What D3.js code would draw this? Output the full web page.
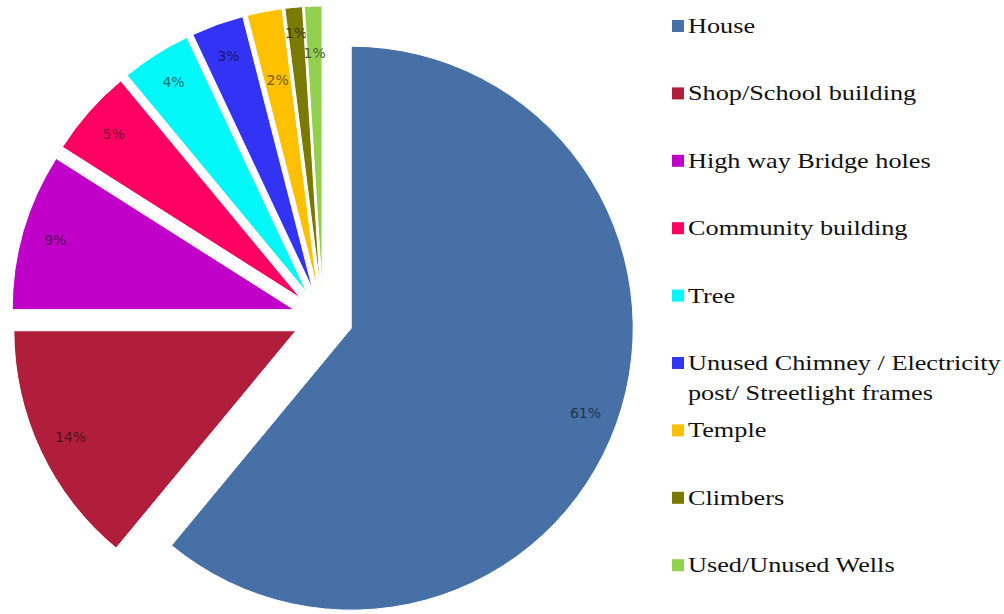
<!doctype html>
<html>

<head>
  <meta charset="utf-8">
  <script src="https://cdnjs.cloudflare.com/ajax/libs/d3/7.8.5/d3.min.js"></script>
  <style>
    body { margin: 0; background: #fff; }
    svg { display: block; }
  </style>
</head>

<body>
  <div id="viz"></div>
  <script>
    // chart data
    var categories = [
      "House",
      "Shop/School building",
      "High way Bridge holes",
      "Community building",
      "Tree",
      "Unused Chimney / Electricity\npost/ Streetlight frames",
      "Temple",
      "Climbers",
      "Used/Unused Wells"
    ];
    var values = [61, 14, 9, 5, 4, 3, 2, 1, 1];
    var colors = ["#4670a6", "#b01e3c", "#c000c8", "#ff0062", "#00f8f8", "#3333f5", "#ffc000", "#7a7a00", "#92d050"];

    var width = 1004, height = 614;
    var cx = 323, cy = 318, radius = 282, explode = 30;
    var labelR = 249;
    // excel moves the thin labels around so they do not collide
    var smallLabelR = [212, 256, 235];

    var data = categories.map((c, i) => ({ name: c, value: values[i], color: colors[i] }));

    var svg = d3.select("#viz").append("svg")
      .attr("width", width)
      .attr("height", height);

    var pie = d3.pie().sort(null).value(d => d.value);
    var arc = d3.arc().innerRadius(0).outerRadius(radius);
    var arcs = pie(data);

    var pieG = svg.append("g").attr("transform", `translate(${cx},${cy})`);

    var sliceG = pieG.selectAll("g.slice")
      .data(arcs)
      .enter()
      .append("g")
      .attr("class", "slice")
      .attr("transform", d => {
        var mid = (d.startAngle + d.endAngle) / 2;
        return `translate(${Math.sin(mid) * explode},${-Math.cos(mid) * explode})`;
      });

    sliceG.append("path")
      .attr("d", arc)
      .attr("fill", d => d.data.color)
      .attr("stroke", "#fff")
      .attr("stroke-width", 1);

    var small = 0;
    sliceG.append("text")
      .attr("transform", d => {
        var mid = (d.startAngle + d.endAngle) / 2;
        var r = d.data.value >= 3 ? labelR : smallLabelR[small++];
        return `translate(${Math.sin(mid) * r},${-Math.cos(mid) * r})`;
      })
      .attr("text-anchor", "middle")
      .attr("dy", "0.36em")
      .style("font-family", "'DejaVu Sans', sans-serif")
      .style("font-size", "14px")
      .style("fill", d => d3.color(d.data.color).darker(2.2))
      .text(d => d.data.value + "%");

    // legend
    var legX = 672, legY = 26, legStep = 67.4;
    var legG = svg.append("g")
      .selectAll("g")
      .data(data)
      .enter()
      .append("g")
      .attr("transform", (d, i) => `translate(${legX},${legY + i * legStep})`);

    legG.append("rect")
      .attr("x", 0)
      .attr("y", -6)
      .attr("width", 12)
      .attr("height", 12)
      .attr("fill", d => d.color);

    legG.append("text")
      .attr("transform", "translate(16,7) scale(1.25,1)")
      .style("font-family", "'Liberation Serif', 'Times New Roman', serif")
      .style("font-size", "21px")
      .style("fill", "#111")
      .selectAll("tspan")
      .data(d => d.name.split("\n"))
      .enter()
      .append("tspan")
      .attr("x", 0)
      .attr("y", (d, i) => i * 30)
      .text(d => d);
  </script>
</body>

</html>
